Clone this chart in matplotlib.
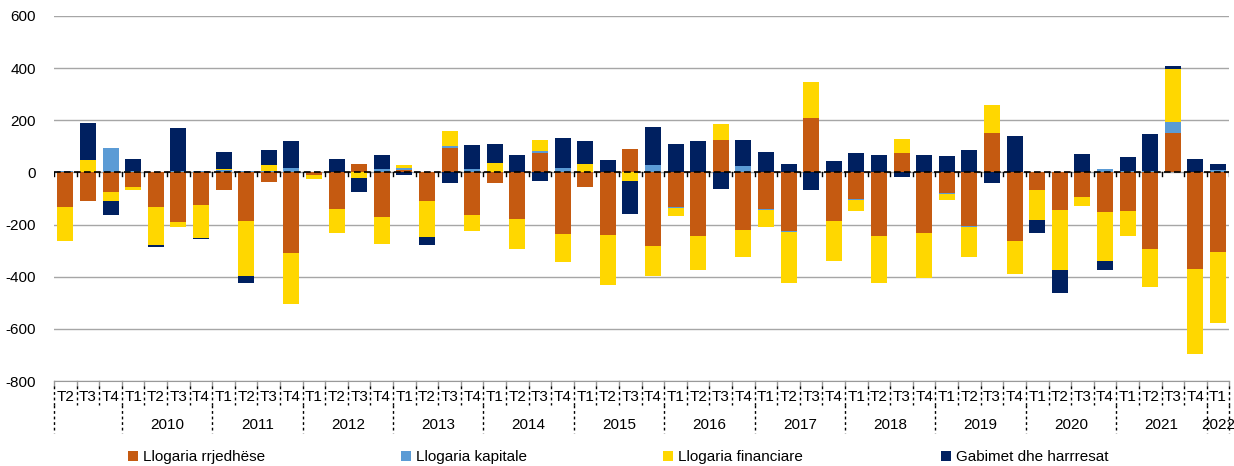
import numpy as np
import matplotlib
matplotlib.use('Agg')
import matplotlib.pyplot as plt
import matplotlib.transforms as mtrans
from matplotlib.patches import Patch

plt.rcParams['font.family'] = ['Liberation Sans', 'DejaVu Sans']
plt.rcParams['axes.unicode_minus'] = False

# quarters: 2009 T2 .. 2022 T1
quarters = ['T2', 'T3', 'T4'] + ['T1', 'T2', 'T3', 'T4'] * 12 + ['T1']
years = ['', '2010', '2011', '2012', '2013', '2014', '2015', '2016',
         '2017', '2018', '2019', '2020', '2021', '2022']
year_len = [3] + [4] * 12 + [1]

llogaria_rrjedhese = [-134, -108, -74, -56, -134, -190, -126, -68, -188, -38, -310,
                      -11, -139, 34, -170, 8, -110, 92, -163, -41, -177, 74, -237,
                      -56, -239, 88, -283, -131, -245, 126, -222, -139, -224, 210,
                      -188, -101, -242, 74, -233, -79, -204, 152, -264, -69, -143,
                      -96, -153, -149, -292, 151, -371, -306]
llogaria_kapitale = [4, 0, 92, 5, 3, 4, 5, 8, 4, 5, 18, 0, 0, 0, 15, 10, 0, 9, 13,
                     0, 0, 8, 17, 0, 0, 0, 27, -6, 0, 0, 24, -5, -5, 0, 0, -6, 0, 0,
                     0, -5, -4, 0, 0, 3, 2, 0, 13, 6, 4, 43, 3, 8]
llogaria_financiare = [-129, 46, -37, -10, -143, -20, -125, 5, -210, 25, -194, -15,
                       -93, -20, -106, 11, -136, 59, -61, 38, -116, 43, -107, 32,
                       -194, -33, -115, -31, -129, 61, -102, -66, -195, 138, -150,
                       -40, -181, 55, -171, -23, -116, 108, -126, -115, -232, -31,
                       -185, -96, -147, 204, -325, -273]
gabimet = [0, 145, -52, 45, -10, 167, -3, 65, -27, 57, 101, 0, 51, -54, 52, -8, -31,
           -41, 91, 71, 65, -33, 116, 88, 48, -125, 147, 108, 121, -63, 101, 79, 34,
           -69, 42, 74, 65, -18, 65, 64, 85, -41, 140, -47, -87, 69, -38, 54, 143,
           10, 47, 26]

series = [
    ('Llogaria rrjedhëse', llogaria_rrjedhese, '#C55A11'),
    ('Llogaria kapitale', llogaria_kapitale, '#5B9BD5'),
    ('Llogaria financiare', llogaria_financiare, '#FFD700'),
    ('Gabimet dhe harrresat', gabimet, '#002060'),
]

fig = plt.figure(figsize=(12.34, 4.66), dpi=100)
ax = fig.add_axes([0.0438, 0.1824, 0.9524, 0.7833])

x = np.arange(len(quarters))
pos_bottom = np.zeros(len(x))
neg_bottom = np.zeros(len(x))
for name, vals, col in series:
    v = np.array(vals, dtype=float)
    pos = np.where(v > 0, v, 0)
    neg = np.where(v < 0, v, 0)
    ax.bar(x, pos, bottom=pos_bottom, width=0.71, color=col, edgecolor='none', zorder=3)
    ax.bar(x, neg, bottom=neg_bottom, width=0.71, color=col, edgecolor='none', zorder=3)
    pos_bottom += pos
    neg_bottom += neg

ax.set_xlim(-0.5, len(x) - 0.5)
ax.set_ylim(-800, 600)
ax.set_yticks(range(-800, 601, 200))
ax.tick_params(axis='y', length=0, labelsize=11, pad=13)
ax.set_xticks([])
for s in ['top', 'right', 'left']:
    ax.spines[s].set_visible(False)
ax.spines['bottom'].set_color('#999999')
ax.yaxis.grid(True, color='#A6A6A6', linewidth=1)
ax.set_axisbelow(True)

# zero line, dashed, with small ticks at category borders
ax.axhline(0, color='black', linewidth=1.2, linestyle=(0, (4, 2)), zorder=4)
for b in np.arange(-0.5, len(x), 1):
    ax.plot([b, b], [0, -14], color='black', linewidth=1, zorder=4)

# category axis: quarter labels and year groups
trans = mtrans.blended_transform_factory(ax.transData, ax.transAxes)
for i, q in enumerate(quarters):
    ax.text(i, -0.044, q, transform=trans, ha='center', va='center', fontsize=11)
for b in np.arange(-0.5, len(x), 1):
    ax.plot([b, b], [0, -0.015], transform=trans, color='#999999', linewidth=1, clip_on=False)
    ax.plot([b, b], [-0.015, -0.066], transform=trans, color='black', linewidth=1,
            linestyle=(0, (2, 2)), clip_on=False)

start = -0.5
for yr, n in zip(years, year_len):
    ax.plot([start, start], [-0.066, -0.142], transform=trans, color='black',
            linewidth=1, linestyle=(0, (2, 2)), clip_on=False)
    ax.text(start + n / 2, -0.12, yr, transform=trans, ha='center', va='center', fontsize=11)
    start += n
ax.plot([start, start], [-0.066, -0.142], transform=trans, color='black',
        linewidth=1, linestyle=(0, (2, 2)), clip_on=False)

# legend entries spread along the bottom
leg_x = [128, 401, 663, 941]
for (name, vals, col), lx in zip(series, leg_x):
    h = Patch(facecolor=col, edgecolor='none', label=name)
    fig.legend(handles=[h], loc='center left', bbox_to_anchor=(lx / 1234, 1 - 457 / 466),
               frameon=False, fontsize=11, handlelength=0.65, handleheight=0.65,
               handletextpad=0.3, borderaxespad=0, borderpad=0)

fig.savefig('out.png', dpi=100)
